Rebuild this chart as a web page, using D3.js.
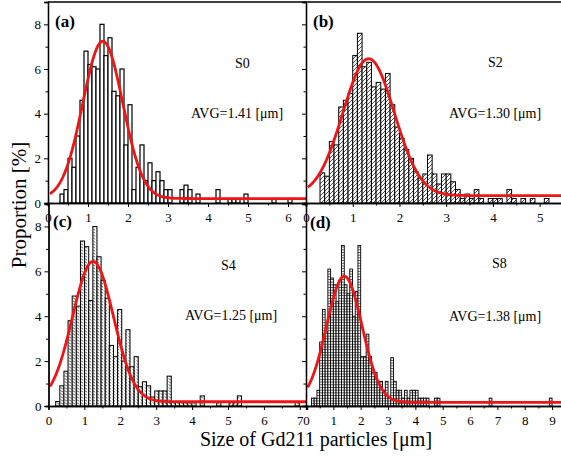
<!DOCTYPE html>
<html>
<head>
<meta charset="utf-8">
<script src="https://cdn.jsdelivr.net/npm/d3@7"></script>
<style>
body { margin: 0; background: #fff; }
svg { display: block; font-family: "Liberation Serif", "Times New Roman", serif; }
</style>
</head>
<body>
<script>
var svgWidth = 561;
var svgHeight = 457;

// one entry per panel: (a) S0, (b) S2, (c) S4, (d) S8
var panelLabels = ["(a)", "(b)", "(c)", "(d)"];
var sampleNames = ["S0", "S2", "S4", "S8"];
var avgTexts = ["AVG=1.41 [\u03bcm]", "AVG=1.30 [\u03bcm]", "AVG=1.25 [\u03bcm]", "AVG=1.38 [\u03bcm]"];
var xMaxes = [6.45, 5.5, 7.2, 9.4];
var xTickValues = [
    [0, 1, 2, 3, 4, 5, 6],
    [0, 1, 2, 3, 4, 5],
    [0, 1, 2, 3, 4, 5, 6, 7],
    [0, 1, 2, 3, 4, 5, 6, 7, 8, 9]
];
var yTickValues = [0, 2, 4, 6, 8];
var yMinorTicks = [1, 3, 5, 7];

// histogram bins: left edge of first bin, bin width, heights [%]
var binStarts = [0.3, 0.3, 0.2, 0.2];
var binWidths = [0.1, 0.1, 0.115, 0.1];

var heightsS0 = [0.4, 0.6, 2.0, 1.6, 3.0, 4.6, 6.8, 6.2, 6.1, 6.0,
    8.0, 6.6, 7.4, 5.0, 4.8, 6.0, 2.6, 4.4, 0.6, 1.6,
    2.6, 1.0, 1.8, 1.0, 1.4, 1.0, 0.6, 0.6, 0, 0,
    0.6, 0.8, 0.6, 0, 0.4, 0, 0, 0, 0, 0.6,
    0, 0, 0.2, 0.2, 0.2, 0, 0.4, 0, 0, 0,
    0, 0, 0, 0.2, 0, 0, 0, 0.2];

var heightsS2 = [1.35, 1.2, 2.75, 2.6, 4.3, 4.6, 4.9, 6.6, 7.6, 6.1,
    6.3, 5.2, 5.4, 5.1, 5.8, 4.4, 3.4, 2.9, 2.4, 2.0,
    1.4, 1.1, 1.3, 2.15, 1.3, 0.85, 1.3, 1.3, 0.95, 0.6,
    0.2, 0.4, 0.2, 0.6, 0.2, 0, 0.2, 0.2, 0.2, 0,
    0.6, 0.2, 0, 0.2, 0, 0.2, 0, 0, 0.2];

var heightsS4 = [0.2, 0.9, 1.55, 3.8, 4.9, 4.45, 7.35, 7.1, 4.7, 8.0,
    6.65, 5.6, 4.8, 2.7, 2.2, 4.3, 2.0, 3.4, 1.75, 2.2,
    0.86, 1.08, 0.9, 0.4, 0.67, 0.67, 0.67, 1.33, 0.2, 0.2,
    0.2, 0.2, 0.2, 0.2, 0, 0.45, 0, 0, 0, 0.2,
    0, 0, 0.2, 0.2, 0.45, 0, 0, 0, 0, 0,
    0, 0, 0, 0, 0, 0, 0, 0, 0.2];

var heightsS8 = [0.35, 0.35, 0.7, 2.85, 4.3, 3.3, 6.1, 5.7, 5.4, 4.65,
    5.6, 7.15, 5.4, 5.0, 6.1, 4.0, 5.1, 7.15, 2.2, 2.2,
    3.2, 2.2, 1.5, 1.5, 1.1, 1.1, 0.7, 1.1, 0.35, 2.15,
    1.1, 0.7, 0.7, 0.35, 0.7, 0.35, 0.7, 0.7, 0.7, 0.35,
    0.35, 0.35, 0.35, 0, 0, 0.35, 0.35, 0, 0, 0,
    0, 0, 0, 0, 0, 0, 0, 0, 0, 0,
    0, 0, 0, 0, 0, 0.35, 0, 0, 0, 0,
    0, 0, 0, 0, 0, 0, 0, 0, 0, 0,
    0, 0, 0, 0, 0, 0, 0, 0.35];

var allHeights = [heightsS0, heightsS2, heightsS4, heightsS8];

// Gaussian fit
var fitCenters = [1.37, 1.34, 1.24, 1.40];
var fitSigmas = [0.50, 0.55, 0.57, 0.65];
var fitPeaks = [7.24, 6.46, 6.44, 5.78];
var fitBases = [0.2, 0.33, 0.19, 0.16];
var fitStarts = [0.05, 0.04, 0.04, 0.06];

// panel boxes in pixels
var boxes = [
    {x0: 48, x1: 306, y0: 2, y1: 203},
    {x0: 306, x1: 563, y0: 2, y1: 203},
    {x0: 48.5, x1: 307, y0: 204, y1: 406},
    {x0: 306, x1: 563, y0: 204, y1: 406}
];
var labelPos = [[55, 27], [313, 27], [53, 227], [310, 228]];
var namePos = [[235, 68], [488, 67], [221, 270], [492, 268]];
var avgPos = [[191, 118], [449, 118], [185, 320], [449, 321]];

var svg = d3.select("body")
    .append("svg")
    .attr("width", svgWidth)
    .attr("height", svgHeight);

var defs = svg.append("defs");

function makePattern(id, w, h, d, color) {
    var p = defs.append("pattern")
        .attr("id", id)
        .attr("patternUnits", "userSpaceOnUse")
        .attr("width", w)
        .attr("height", h);
    p.append("rect").attr("width", w).attr("height", h).attr("fill", "#fff");
    if (d) {
        p.append("path").attr("d", d)
            .attr("stroke", color).attr("stroke-width", 0.8).attr("fill", "none");
    }
}
makePattern("patA", 4, 4, null, "#000");
makePattern("patB", 4, 4, "M0,4 L4,0", "#222");
makePattern("patC", 4, 3, "M0.6,0.6 L3.2,2.2", "#333");
makePattern("patD", 3, 2.7, "M0,1.35 H3", "#333");
var fills = ["url(#patA)", "url(#patB)", "url(#patC)", "url(#patD)"];
var barStrokes = [1.2, 1.0, 1.0, 0.9];

function drawPanel(i) {
    var box = boxes[i];
    var x = d3.scaleLinear().domain([0, xMaxes[i]]).range([box.x0, box.x1]);
    var y = d3.scaleLinear().domain([0, 9]).range([box.y1, box.y0]);
    var g = svg.append("g");

    var clipId = "clip" + i;
    defs.append("clipPath").attr("id", clipId)
        .append("rect")
        .attr("x", box.x0).attr("y", box.y0)
        .attr("width", box.x1 - box.x0).attr("height", box.y1 - box.y0);

    var bins = allHeights[i].map(function(h, k) {
        return {left: binStarts[i] + k * binWidths[i], h: h};
    }).filter(function(d) { return d.h > 0; });

    g.append("g").selectAll("rect")
        .data(bins)
        .enter().append("rect")
        .attr("x", d => x(d.left))
        .attr("y", d => y(d.h))
        .attr("width", x(binWidths[i]) - x(0))
        .attr("height", d => y(0) - y(d.h))
        .attr("fill", fills[i])
        .attr("stroke", "#000")
        .attr("stroke-width", barStrokes[i]);

    // fitted curve
    var pts = d3.range(fitStarts[i], xMaxes[i] + 0.001, 0.02).map(function(v) {
        var dz = v - fitCenters[i];
        var val = fitBases[i] + (fitPeaks[i] - fitBases[i]) *
            Math.exp(-dz * dz / (2 * fitSigmas[i] * fitSigmas[i]));
        return [v, val];
    });
    g.append("path")
        .datum(pts)
        .attr("clip-path", "url(#" + clipId + ")")
        .attr("fill", "none")
        .attr("stroke", "#f01414")
        .attr("stroke-width", 2.8)
        .attr("d", d3.line().x(d => x(d[0])).y(d => y(d[1])));

    // x axis
    var minorX = d3.range(0.5, xMaxes[i], 1);
    g.append("g")
        .attr("class", "axis")
        .attr("transform", "translate(0," + box.y1 + ")")
        .call(d3.axisBottom(x).tickValues(minorX).tickSize(2.5).tickFormat(""));
    g.append("g")
        .attr("class", "axis")
        .attr("transform", "translate(0," + box.y1 + ")")
        .call(d3.axisBottom(x).tickValues(xTickValues[i]).tickSize(4).tickPadding(6).tickFormat(d3.format("d")));

    // y axis
    var showLabels = (i === 0 || i === 2);
    g.append("g")
        .attr("class", "axis")
        .attr("transform", "translate(" + box.x0 + ",0)")
        .call(d3.axisLeft(y).tickValues(yMinorTicks).tickSize(2.5).tickFormat(""));
    g.append("g")
        .attr("class", "axis")
        .attr("transform", "translate(" + box.x0 + ",0)")
        .call(d3.axisLeft(y).tickValues(yTickValues).tickSize(4).tickPadding(3)
            .tickFormat(showLabels ? d3.format("d") : ""));

    g.append("text")
        .attr("x", labelPos[i][0]).attr("y", labelPos[i][1])
        .attr("font-size", 17).attr("font-weight", "bold")
        .text(panelLabels[i]);
    g.append("text")
        .attr("x", namePos[i][0]).attr("y", namePos[i][1])
        .attr("font-size", 14)
        .text(sampleNames[i]);
    g.append("text")
        .attr("x", avgPos[i][0]).attr("y", avgPos[i][1])
        .attr("font-size", 14)
        .text(avgTexts[i]);
}

for (var i = 0; i < 4; i++) drawPanel(i);

svg.selectAll(".axis path").attr("stroke", "#000").attr("stroke-width", 1.3);
svg.selectAll(".axis line").attr("stroke", "#000").attr("stroke-width", 1);
svg.selectAll(".axis text")
    .attr("font-family", "Liberation Serif, Times New Roman, serif")
    .attr("font-size", 13)
    .attr("fill", "#000");

// top frame line
svg.append("line")
    .attr("x1", 48).attr("x2", svgWidth)
    .attr("y1", 2).attr("y2", 2)
    .attr("stroke", "#000").attr("stroke-width", 1.3);

// axis titles
svg.append("text")
    .attr("transform", "translate(26,205) rotate(-90)")
    .attr("text-anchor", "middle")
    .attr("font-size", 21)
    .text("Proportion [%]");
svg.append("text")
    .attr("x", 316).attr("y", 446)
    .attr("text-anchor", "middle")
    .attr("font-size", 20)
    .text("Size of Gd211 particles [\u03bcm]");
</script>
</body>
</html>
